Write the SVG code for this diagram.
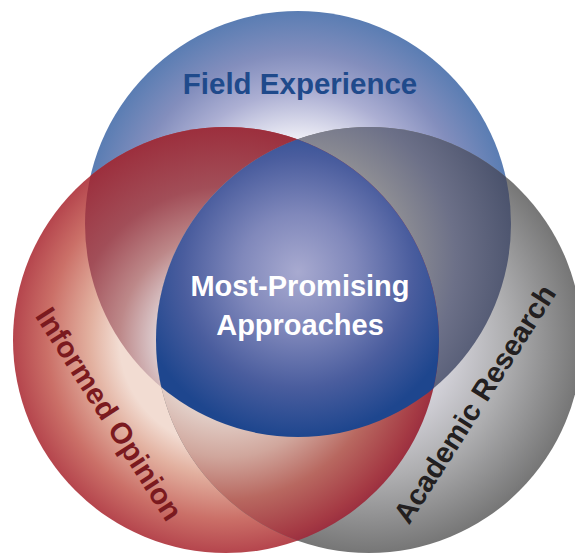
<svg xmlns="http://www.w3.org/2000/svg" width="575" height="553" viewBox="0 0 575 553">
  <style>
    .lbl { font-family: "Liberation Sans", Arial, sans-serif; font-weight: bold; text-anchor: middle; }
  </style>
  <defs>
    <clipPath id="clipBlue"><circle cx="298" cy="224" r="213"/></clipPath>
    <clipPath id="clipRed"><circle cx="226" cy="340" r="213"/></clipPath>
    <clipPath id="clipGray"><circle cx="369" cy="340" r="213"/></clipPath>
    <radialGradient id="gA" gradientUnits="userSpaceOnUse" cx="298" cy="224" r="213">
      <stop offset="0.4" stop-color="#eeeef6"/>
      <stop offset="0.62" stop-color="#acafd3"/>
      <stop offset="0.8" stop-color="#838ebd"/>
      <stop offset="1" stop-color="#5a7db3"/>
    </radialGradient>
    <radialGradient id="gB" gradientUnits="userSpaceOnUse" cx="226" cy="340" r="213">
      <stop offset="0.5" stop-color="#f2dcd2"/>
      <stop offset="0.64" stop-color="#e2b09f"/>
      <stop offset="0.84" stop-color="#cb7068"/>
      <stop offset="1" stop-color="#b5454d"/>
    </radialGradient>
    <radialGradient id="gC" gradientUnits="userSpaceOnUse" cx="369" cy="340" r="213">
      <stop offset="0.4" stop-color="#d0cfd6"/>
      <stop offset="0.65" stop-color="#aeaeb0"/>
      <stop offset="1" stop-color="#767676"/>
    </radialGradient>
    <radialGradient id="gAB" gradientUnits="userSpaceOnUse" cx="226" cy="340" r="213">
      <stop offset="0.28" stop-color="#e4dde0"/>
      <stop offset="0.5" stop-color="#bd8889"/>
      <stop offset="0.72" stop-color="#a24e58"/>
      <stop offset="1" stop-color="#9c2f3d"/>
    </radialGradient>
    <radialGradient id="gAC" gradientUnits="userSpaceOnUse" cx="300" cy="260" r="260">
      <stop offset="0.4" stop-color="#8e8e94"/>
      <stop offset="0.6" stop-color="#6c7088"/>
      <stop offset="0.85" stop-color="#4a526c"/>
      <stop offset="1" stop-color="#404a66"/>
    </radialGradient>
    <radialGradient id="gBC" gradientUnits="userSpaceOnUse" cx="226" cy="340" r="213">
      <stop offset="0.3" stop-color="#e8dcd6"/>
      <stop offset="0.55" stop-color="#d0a69c"/>
      <stop offset="0.75" stop-color="#b86860"/>
      <stop offset="0.95" stop-color="#a53a44"/>
      <stop offset="1" stop-color="#9c3040"/>
    </radialGradient>
    <radialGradient id="gABC" gradientUnits="userSpaceOnUse" cx="298" cy="272" r="165">
      <stop offset="0" stop-color="#a8aad0"/>
      <stop offset="0.35" stop-color="#8088bb"/>
      <stop offset="0.7" stop-color="#4a5d9e"/>
      <stop offset="1" stop-color="#1e468e"/>
    </radialGradient>
  </defs>

  <g id="field-experience">
    <circle cx="298" cy="224" r="213" fill="url(#gA)"/>
    <text class="lbl" x="300" y="94" font-size="29.5" fill="#1f4a8b">Field Experience</text>
  </g>

  <g id="informed-opinion">
    <circle cx="226" cy="340" r="213" fill="url(#gB)"/>
    <text class="lbl" transform="translate(109,414) rotate(57.5)" x="0" y="10" font-size="29.5" fill="#7b1a1f">Informed Opinion</text>
  </g>

  <g id="academic-research">
    <circle cx="369" cy="340" r="213" fill="url(#gC)"/>
    <text class="lbl" transform="translate(474.5,404) rotate(-57.5)" x="0" y="10" font-size="29" fill="#231f20">Academic Research</text>
  </g>

  <g id="overlaps">
    <circle cx="226" cy="340" r="213" fill="url(#gAB)" clip-path="url(#clipBlue)"/>
    <circle cx="298" cy="224" r="213" fill="url(#gAC)" clip-path="url(#clipGray)"/>
    <circle cx="226" cy="340" r="213" fill="url(#gBC)" clip-path="url(#clipGray)"/>
  </g>

  <g id="most-promising-approaches">
    <g clip-path="url(#clipGray)">
      <circle cx="298" cy="224" r="213" fill="url(#gABC)" clip-path="url(#clipRed)"/>
    </g>
    <text class="lbl" x="300" y="296" font-size="29" fill="#ffffff">Most-Promising</text>
    <text class="lbl" x="300" y="335" font-size="29" fill="#ffffff">Approaches</text>
  </g>
</svg>
